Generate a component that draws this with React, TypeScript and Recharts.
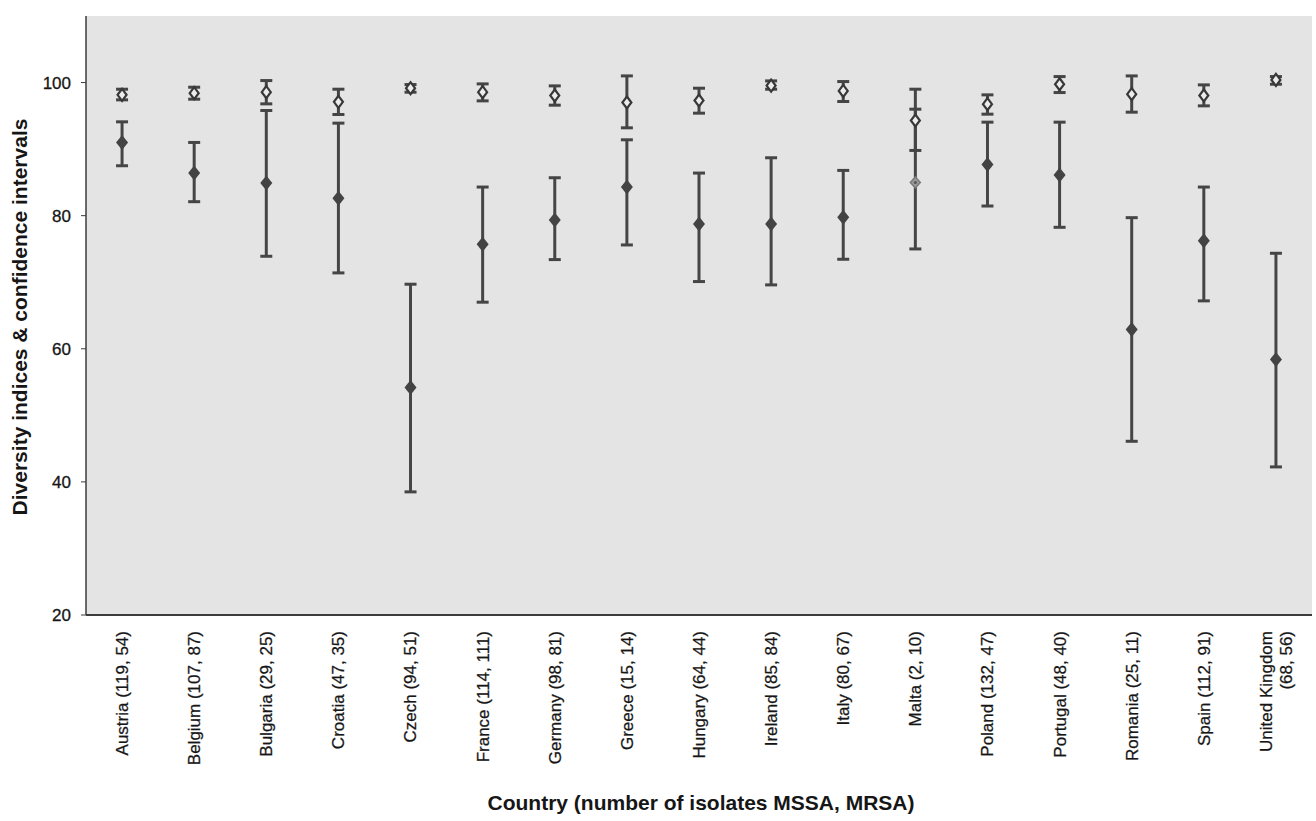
import React from 'react';
import { ComposedChart, Line, XAxis, YAxis, CartesianGrid, ErrorBar, Label } from 'recharts';

const countries = [
  'Austria (119, 54)',
  'Belgium (107, 87)',
  'Bulgaria (29, 25)',
  'Croatia (47, 35)',
  'Czech (94, 51)',
  'France (114, 111)',
  'Germany (98, 81)',
  'Greece (15, 14)',
  'Hungary (64, 44)',
  'Ireland (85, 84)',
  'Italy (80, 67)',
  'Malta (2, 10)',
  'Poland (132, 47)',
  'Portugal (48, 40)',
  'Romania (25, 11)',
  'Spain (112, 91)',
  'United Kingdom\n(68, 56)',
];

const mssaIndex = [98.15, 98.4, 98.55, 97.1, 99.15, 98.55, 98.05, 97.0, 97.3, 99.55, 98.75, 94.3, 96.75, 99.75, 98.25, 98.05, 100.4];
const mssaLower = [97.4, 97.5, 96.8, 95.2, 98.55, 97.25, 96.6, 93.2, 95.4, 99.0, 97.15, 89.8, 95.25, 98.5, 95.55, 96.5, 99.75];
const mssaUpper = [99.0, 99.3, 100.3, 99.0, 99.7, 99.8, 99.5, 101.0, 99.15, 100.25, 100.15, 99.0, 98.15, 100.9, 101.0, 99.65, 100.9];

const mrsaIndex = [91.0, 86.4, 84.9, 82.6, 54.2, 75.7, 79.35, 84.3, 78.75, 78.75, 79.75, 85.0, 87.7, 86.1, 62.9, 76.25, 58.4];
const mrsaLower = [87.5, 82.1, 73.9, 71.4, 38.5, 67.0, 73.4, 75.6, 70.1, 69.6, 73.45, 75.0, 81.45, 78.25, 46.1, 67.2, 42.25];
const mrsaUpper = [94.1, 91.0, 95.8, 93.9, 69.7, 84.3, 85.7, 91.4, 86.4, 88.7, 86.8, 96.0, 94.05, 94.05, 79.7, 84.3, 74.35];

const lightMrsaMarker = ['Malta (2, 10)'];

const yTicks = [20, 40, 60, 80, 100];
const yDomain = [20, 110];

const yTitle = 'Diversity indices & confidence intervals';
const xTitle = 'Country (number of isolates MSSA, MRSA)';

const data = countries.map((country, i) => ({
  country,
  mssa: mssaIndex[i],
  mssaErr: [mssaIndex[i] - mssaLower[i], mssaUpper[i] - mssaIndex[i]],
  mrsa: mrsaIndex[i],
  mrsaErr: [mrsaIndex[i] - mrsaLower[i], mrsaUpper[i] - mrsaIndex[i]],
}));

const FONT = '"Liberation Sans", Arial, sans-serif';
const TEXT = '#161616';
const BAR = '#454545';

const XTick = (props: any) => {
  const { x, y, payload } = props;
  const lines = String(payload.value).split('\n');
  const n = lines.length;
  return (
    <g>
      {lines.map((ln, i) => (
        <text
          key={i}
          transform={`translate(${x + (i - (n - 1) / 2) * 20},${y + 16}) rotate(-90)`}
          textAnchor="end"
          dy="0.35em"
          fontFamily={FONT}
          fontSize={17}
          fill={TEXT}
          stroke={TEXT}
          strokeWidth={0.25}
        >
          {ln}
        </text>
      ))}
    </g>
  );
};

const YTick = (props: any) => {
  const { x, y, payload } = props;
  return (
    <text
      x={x}
      y={y}
      textAnchor="end"
      dy="0.36em"
      fontFamily={FONT}
      fontSize={17}
      fill={TEXT}
      stroke={TEXT}
      strokeWidth={0.3}
    >
      {payload.value}
    </text>
  );
};

const MssaShape = (props: any) => {
  const { cx, cy } = props;
  if (cx == null || cy == null) return null;
  return (
    <path
      d={`M${cx},${cy - 6} L${cx + 4.5},${cy} L${cx},${cy + 6} L${cx - 4.5},${cy} Z`}
      fill="#ececec"
      stroke="#383838"
      strokeWidth={2.2}
    />
  );
};

const MrsaShape = (props: any) => {
  const { cx, cy, payload } = props;
  if (cx == null || cy == null) return null;
  const light = payload && lightMrsaMarker.includes(payload.country);
  if (light) {
    return (
      <g>
        <path
          d={`M${cx},${cy - 5.5} L${cx + 5},${cy} L${cx},${cy + 5.5} L${cx - 5},${cy} Z`}
          fill="#9a9a9a"
          stroke="#7a7a7a"
          strokeWidth={1.5}
        />
        <circle cx={cx} cy={cy} r={1.5} fill="#555" />
      </g>
    );
  }
  return (
    <path
      d={`M${cx},${cy - 7.5} L${cx + 6},${cy} L${cx},${cy + 7.5} L${cx - 6},${cy} Z`}
      fill="#434343"
    />
  );
};

export default function App() {
  return (
    <div style={{ position: 'absolute', left: 0, top: 0, width: 1316, height: 821, background: '#ffffff' }}>
      <ComposedChart
        width={1316}
        height={821}
        data={data}
        margin={{ top: 16, right: 4, bottom: 0, left: 0 }}
      >
        <CartesianGrid horizontal={false} vertical={false} fill="#e4e4e4" stroke="none" />
        <XAxis
          dataKey="country"
          type="category"
          scale="band"
          interval={0}
          height={206}
          tickSize={0}
          tickMargin={0}
          tick={<XTick />}
          axisLine={{ stroke: '#3c3c3c', strokeWidth: 2 }}
          tickLine={false}
        >
          <Label
            content={() => (
              <text
                x={701}
                y={803}
                textAnchor="middle"
                dy="0.35em"
                fontFamily={FONT}
                fontSize={21}
                fontWeight="bold"
                fill={TEXT}
              >
                {xTitle}
              </text>
            )}
          />
        </XAxis>
        <XAxis
          xAxisId="top"
          orientation="top"
          dataKey="country"
          type="category"
          scale="band"
          height={0}
          tick={false}
          tickLine={false}
          axisLine={{ stroke: '#b8b8b8', strokeWidth: 1.5 }}
        />
        <YAxis
          type="number"
          domain={yDomain}
          ticks={yTicks}
          width={86}
          tickSize={5}
          tickMargin={10}
          tick={<YTick />}
          axisLine={{ stroke: '#3c3c3c', strokeWidth: 1.5 }}
          tickLine={{ stroke: '#3c3c3c' }}
        >
          <Label
            content={() => (
              <text
                transform="translate(20,317) rotate(-90)"
                textAnchor="middle"
                dy="0.35em"
                fontFamily={FONT}
                fontSize={21}
                fontWeight="bold"
                fill={TEXT}
              >
                {yTitle}
              </text>
            )}
          />
        </YAxis>
        <YAxis
          yAxisId="right"
          orientation="right"
          type="number"
          domain={yDomain}
          width={0}
          tick={false}
          tickLine={false}
          axisLine={{ stroke: '#a0a0a0', strokeWidth: 1.5 }}
        />
        <Line
          dataKey="mrsa"
          stroke="none"
          isAnimationActive={false}
          dot={<MrsaShape />}
          activeDot={false}
          legendType="none"
        >
          <ErrorBar dataKey="mrsaErr" direction="y" width={6} stroke={BAR} strokeWidth={3} />
        </Line>
        <Line
          dataKey="mssa"
          stroke="none"
          isAnimationActive={false}
          dot={<MssaShape />}
          activeDot={false}
          legendType="none"
        >
          <ErrorBar dataKey="mssaErr" direction="y" width={6} stroke={BAR} strokeWidth={3} />
        </Line>
      </ComposedChart>
    </div>
  );
}
